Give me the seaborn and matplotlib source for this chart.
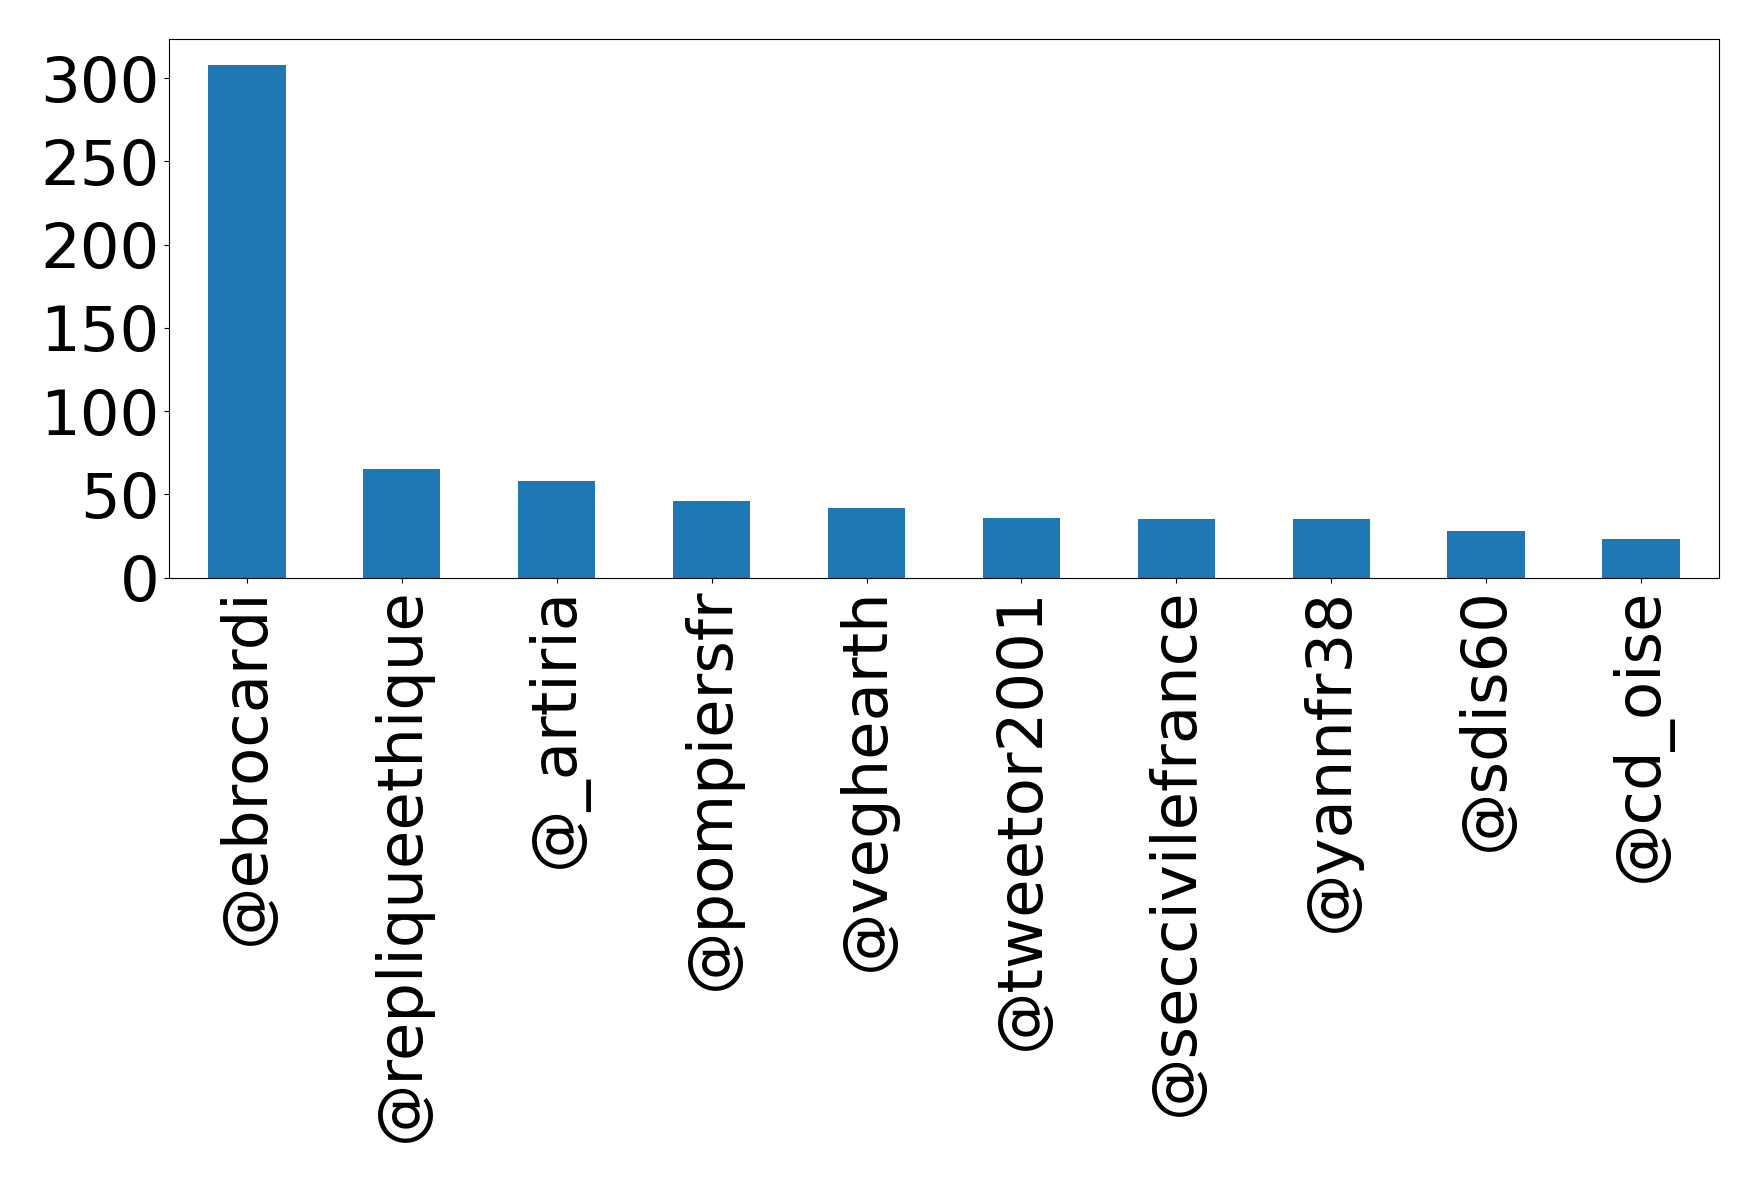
import matplotlib
matplotlib.use("Agg")
import matplotlib.pyplot as plt
import seaborn as sns
import pandas as pd

accounts = ["@ebrocardi", "@repliqueethique", "@_artiria", "@pompiersfr", "@veghearth",
            "@tweetor2001", "@seccivilefrance", "@yannfr38", "@sdis60", "@cd_oise"]
counts = [308, 65, 58, 46, 42, 36, 35, 35, 28, 23]
yticks = [0, 50, 100, 150, 200, 250, 300]

df = pd.DataFrame({"account": accounts, "count": counts})

fig = plt.figure(figsize=(17.59, 11.83), dpi=100)
ax = fig.add_axes([0.0963, 0.5117, 0.977 - 0.0963, 0.9668 - 0.5117])
sns.barplot(data=df, x="account", y="count", color="#1f77b4", saturation=1,
            width=0.5, ax=ax)
ax.set_xlim(-0.5, len(accounts) - 0.5)
ax.set_yticks(yticks)
ax.set_xlabel("")
ax.set_ylabel("")
ax.tick_params(axis="both", labelsize=45)
plt.setp(ax.get_xticklabels(), rotation=90)
for s in ax.spines.values():
    s.set_visible(True)
    s.set_color("black")
fig.savefig("out.png", dpi=100)
